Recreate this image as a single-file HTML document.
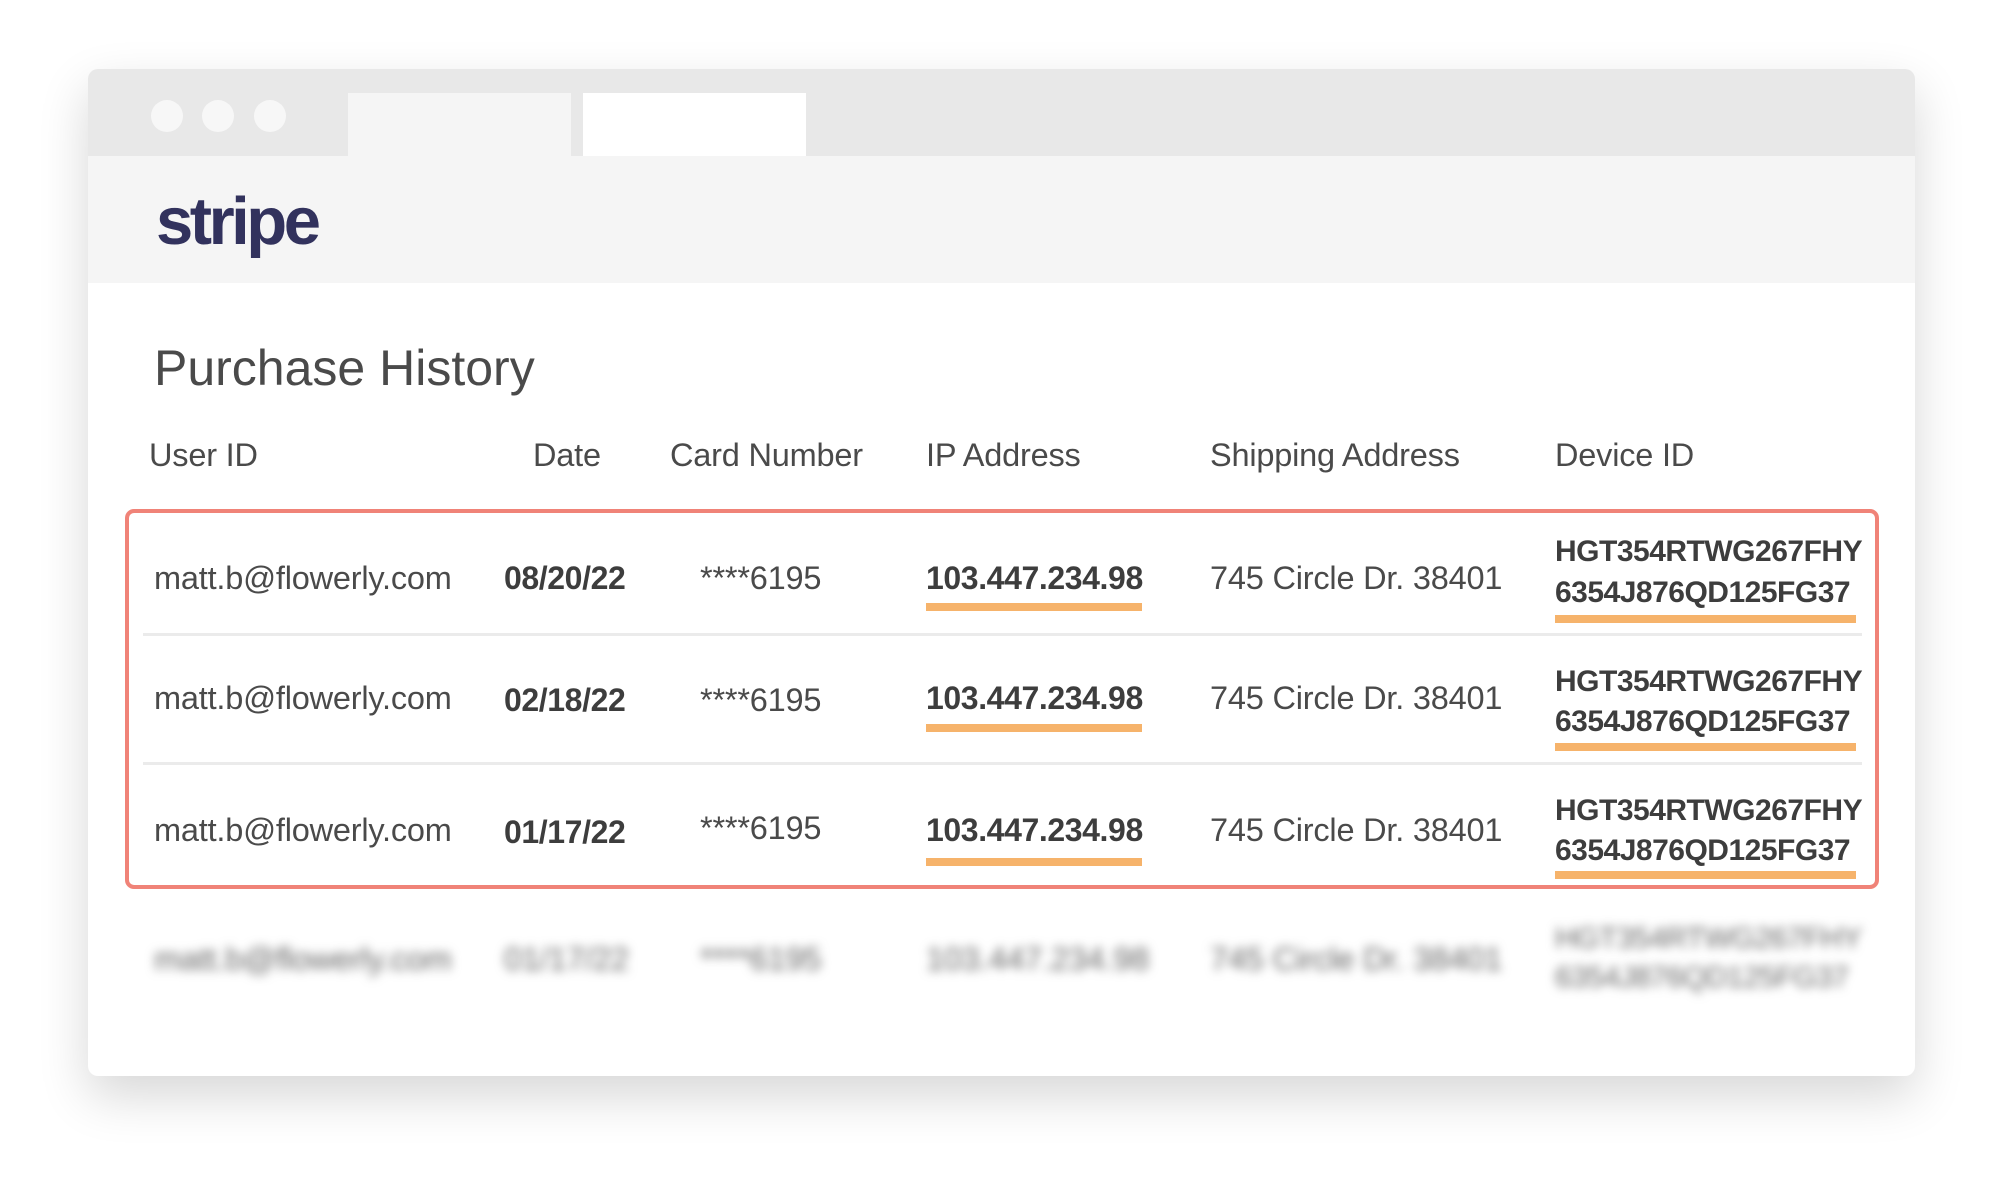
<!DOCTYPE html>
<html><head><meta charset="utf-8"><style>
html,body{margin:0;padding:0;}
body{width:2000px;height:1177px;background:#fff;position:relative;overflow:hidden;font-family:"Liberation Sans",sans-serif;}
.win{position:absolute;left:88px;top:69px;width:1827px;height:1007px;background:#fff;border-radius:10px;box-shadow:0 20px 50px rgba(0,0,0,0.16);overflow:hidden;}
.abs{position:absolute;}
.t{position:absolute;white-space:nowrap;line-height:40px;height:40px;color:#4a4a4a;font-size:32.5px;letter-spacing:-0.2px;}
.b{font-weight:bold;color:#3d3d3d;font-size:32px;letter-spacing:-0.4px;}
.d{font-size:30px;letter-spacing:-0.5px;}
.ul{position:absolute;height:8px;background:#f6b36b;}
.dot{position:absolute;width:32px;height:32px;border-radius:50%;background:#f7f7f7;top:31px;}
.blur{filter:blur(5px);color:#666;font-weight:normal;}
</style></head><body>
<div class="win">
  <div class="abs" style="left:0;top:0;width:1827px;height:87px;background:#e8e8e8"></div>
  <div class="dot" style="left:63px"></div>
  <div class="dot" style="left:114px"></div>
  <div class="dot" style="left:166px"></div>
  <div class="abs" style="left:260px;top:24px;width:223px;height:63px;background:#f5f5f5"></div>
  <div class="abs" style="left:495px;top:24px;width:223px;height:63px;background:#fff"></div>
  <div class="abs" style="left:0;top:87px;width:1827px;height:127px;background:#f5f5f5"></div>
  <div class="abs" style="left:68px;top:113px;font-size:67px;font-weight:bold;color:#32325d;letter-spacing:-3.5px;line-height:80px">stripe</div>
  <div class="abs" style="left:66px;top:268px;font-size:50px;color:#4a4a4a;line-height:62px">Purchase History</div>

  <div class="t" style="left:61px;top:366px">User ID</div>
  <div class="t" style="left:445px;top:366px">Date</div>
  <div class="t" style="left:582px;top:366px">Card Number</div>
  <div class="t" style="left:838px;top:366px">IP Address</div>
  <div class="t" style="left:1122px;top:366px">Shipping Address</div>
  <div class="t" style="left:1467px;top:366px">Device ID</div>

  <div class="abs" style="left:37px;top:440px;width:1746px;height:372px;border:4px solid #f08378;border-radius:9px"></div>
  <div class="abs" style="left:55px;top:564px;width:1719px;height:3px;background:#ebebeb"></div>
  <div class="abs" style="left:55px;top:693px;width:1719px;height:3px;background:#ebebeb"></div>

  <!-- row 1 -->
  <div class="t" style="left:66px;top:489px">matt.b@flowerly.com</div>
  <div class="t b" style="left:416px;top:489px">08/20/22</div>
  <div class="t" style="left:612px;top:489px">****6195</div>
  <div class="t b" style="left:838px;top:489px">103.447.234.98</div>
  <div class="ul" style="left:838px;top:534px;width:216px"></div>
  <div class="t" style="left:1122px;top:489px">745 Circle Dr. 38401</div>
  <div class="t b d" style="left:1467px;top:463px">HGT354RTWG267FHY</div>
  <div class="t b d" style="left:1467px;top:504px">6354J876QD125FG37</div>
  <div class="ul" style="left:1467px;top:546px;width:301px"></div>

  <!-- row 2 -->
  <div class="t" style="left:66px;top:609px">matt.b@flowerly.com</div>
  <div class="t b" style="left:416px;top:611px">02/18/22</div>
  <div class="t" style="left:612px;top:611px">****6195</div>
  <div class="t b" style="left:838px;top:609px">103.447.234.98</div>
  <div class="ul" style="left:838px;top:655px;width:216px"></div>
  <div class="t" style="left:1122px;top:609px">745 Circle Dr. 38401</div>
  <div class="t b d" style="left:1467px;top:593px">HGT354RTWG267FHY</div>
  <div class="t b d" style="left:1467px;top:633px">6354J876QD125FG37</div>
  <div class="ul" style="left:1467px;top:674px;width:301px"></div>

  <!-- row 3 -->
  <div class="t" style="left:66px;top:741px">matt.b@flowerly.com</div>
  <div class="t b" style="left:416px;top:743px">01/17/22</div>
  <div class="t" style="left:612px;top:739px">****6195</div>
  <div class="t b" style="left:838px;top:741px">103.447.234.98</div>
  <div class="ul" style="left:838px;top:789px;width:216px"></div>
  <div class="t" style="left:1122px;top:741px">745 Circle Dr. 38401</div>
  <div class="t b d" style="left:1467px;top:722px">HGT354RTWG267FHY</div>
  <div class="t b d" style="left:1467px;top:762px">6354J876QD125FG37</div>
  <div class="ul" style="left:1467px;top:802px;width:301px"></div>

  <!-- blurred row -->
  <div class="t blur" style="left:66px;top:870px">matt.b@flowerly.com</div>
  <div class="t blur" style="left:416px;top:870px">01/17/22</div>
  <div class="t blur" style="left:612px;top:870px">****6195</div>
  <div class="t blur" style="left:838px;top:870px">103.447.234.98</div>
  <div class="t blur" style="left:1122px;top:870px">745 Circle Dr. 38401</div>
  <div class="t blur d" style="left:1467px;top:850px">HGT354RTWG267FHY</div>
  <div class="t blur d" style="left:1467px;top:889px">6354J876QD125FG37</div>
</div>
</body></html>
